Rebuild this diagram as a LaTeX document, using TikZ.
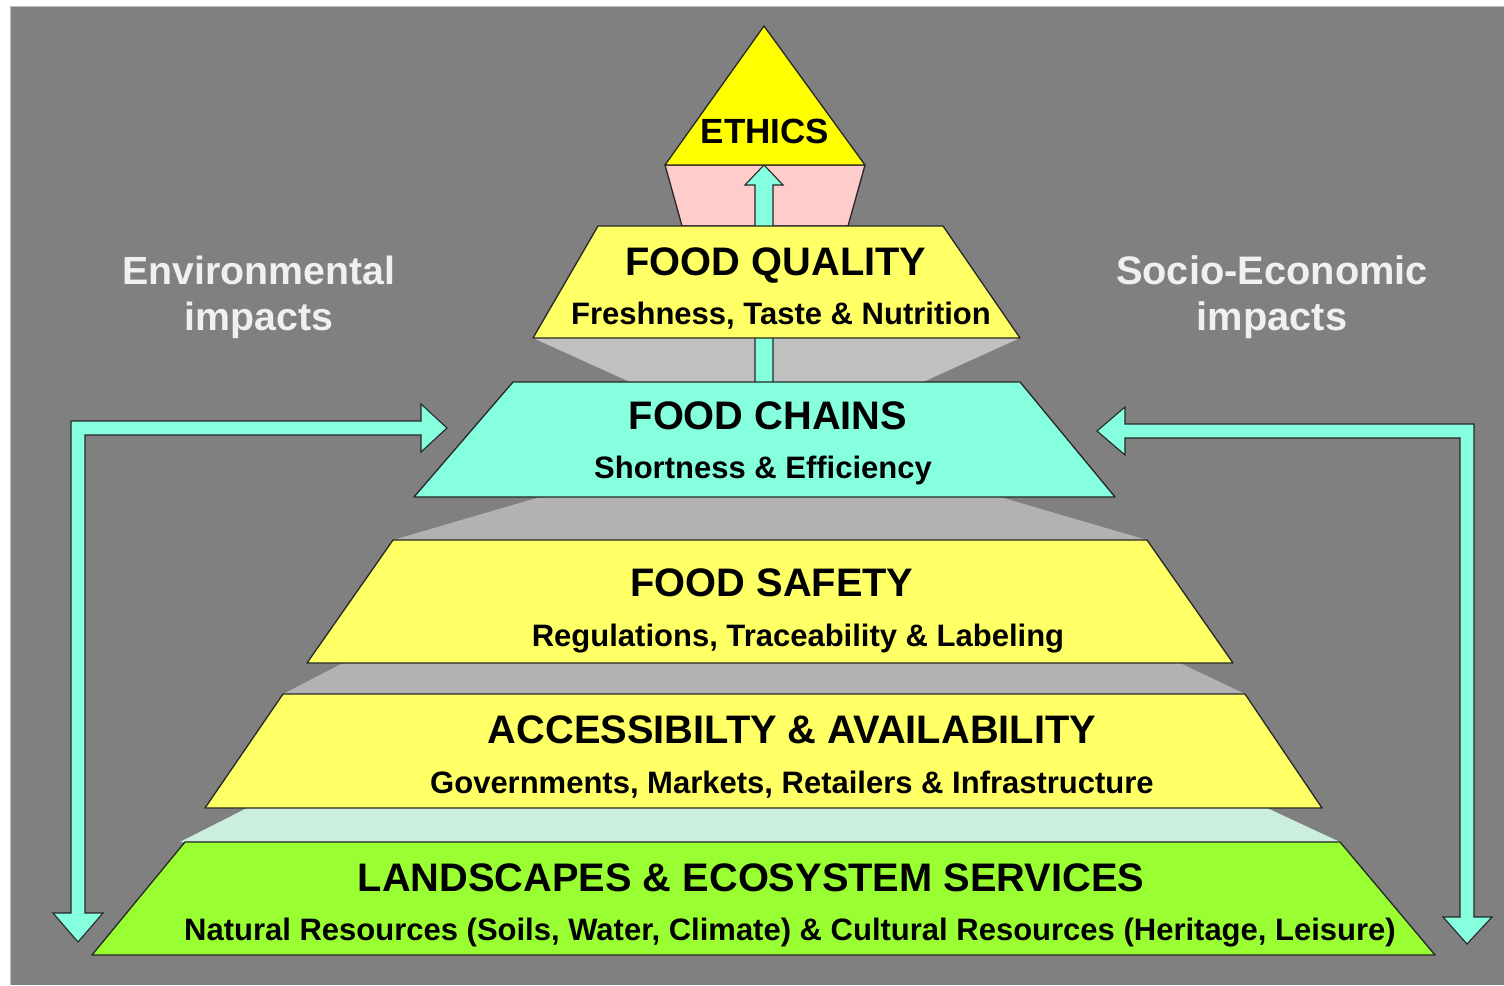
\documentclass[tikz,border=0pt]{standalone}
\usepackage{fontspec}
\setmainfont{Liberation Sans}
\definecolor{bggray}{HTML}{808080}
\definecolor{ethicsyellow}{HTML}{FFFF00}
\definecolor{pinkband}{HTML}{FFCCCC}
\definecolor{layeryellow}{HTML}{FFFF66}
\definecolor{aqua}{HTML}{86FFDE}
\definecolor{landgreen}{HTML}{99FF33}
\definecolor{bandA}{HTML}{C0C0C0}
\definecolor{bandB}{HTML}{B2B2B2}
\definecolor{bandC}{HTML}{CCEEDD}
\definecolor{sidetext}{HTML}{F0F0F0}
\tikzset{
  layer/.style={draw=black!85, line width=1.3pt, line join=round},
  band/.style={draw=none},
  blockarrow/.style={draw=black!85, line width=1.1pt, fill=aqua, line join=miter},
  title/.style={anchor=base, inner sep=0pt, font=\bfseries\fontsize{39.8}{40}\selectfont},
  subtitle/.style={anchor=base, inner sep=0pt, font=\bfseries\fontsize{31}{32}\selectfont},
  sidelabel/.style={anchor=base, inner sep=0pt, text=sidetext, font=\bfseries\fontsize{39.3}{40}\selectfont}
}
\begin{document}
\begin{tikzpicture}[x=1pt,y=-1pt]
\useasboundingbox (0,0) rectangle (1504,985);
\fill[white] (0,0) rectangle (1504,985);
\fill[bggray] (10,6) rectangle (1504,985);
\draw[black!25, line width=0.8pt] (10,985) -- (10,6) -- (1504,6);

% connecting bands (behind layers)
\fill[pinkband, layer] (665,165) -- (865,165) -- (848,226) -- (682,226) -- cycle;
\fill[bandA] (533,338) -- (1020,338) -- (923,382) -- (630,382) -- cycle;
\fill[bandB] (540,497) -- (1000,497) -- (1147,540) -- (393,540) -- cycle;
\fill[bandB] (343,663) -- (1180,663) -- (1245,694) -- (283,694) -- cycle;
\fill[bandC] (247,808) -- (1267,808) -- (1340,842) -- (180,842) -- cycle;

% up arrow from food chains to ethics
\coordinate (upbase) at (764,382);
\coordinate (uptip) at (764,165);
\draw[blockarrow] ([xshift=-9pt]upbase) -- ([xshift=-9pt,yshift=-20pt]uptip) -- ([xshift=-19pt,yshift=-20pt]uptip) -- (uptip)
  -- ([xshift=19pt,yshift=-20pt]uptip) -- ([xshift=9pt,yshift=-20pt]uptip) -- ([xshift=9pt]upbase);

% layers
\filldraw[layer, fill=layeryellow] (598,226) -- (943,226) -- (1020,338) -- (533,338) -- cycle;
\filldraw[layer, fill=aqua] (513,382) -- (1020,382) -- (1115,497) -- (414,497) -- cycle;
\filldraw[layer, fill=layeryellow] (393,540) -- (1147,540) -- (1233,663) -- (307,663) -- cycle;
\filldraw[layer, fill=layeryellow] (283,694) -- (1245,694) -- (1322,808) -- (205,808) -- cycle;
\filldraw[layer, fill=landgreen] (185,842) -- (1340,842) -- (1435,955) -- (92,955) -- cycle;
\filldraw[layer, fill=ethicsyellow] (764,26) -- (865,165) -- (665,165) -- cycle;

% side feedback arrows
\filldraw[blockarrow] (71,421) -- (421,421) -- (421,404) -- (447,428) -- (421,452) -- (421,435)
  -- (85,435) -- (85,913) -- (103,913) -- (78,942) -- (53,913) -- (71,913) -- cycle;
\filldraw[blockarrow] (1474,424) -- (1125,424) -- (1125,407) -- (1097,431) -- (1125,455) -- (1125,438)
  -- (1460,438) -- (1460,917) -- (1443,917) -- (1467,944) -- (1492,917) -- (1474,917) -- cycle;

% texts
\node[anchor=base, inner sep=0pt, font=\bfseries\fontsize{35}{36}\selectfont] (ethics) at (765,143) {ETHICS};
\node[title] (fq) at (776,275) {FOOD QUALITY};
\node[subtitle] (fqs) at (781,324) {Freshness, Taste \& Nutrition};
\node[title] (fc) at (768,429) {FOOD CHAINS};
\node[subtitle] (fcs) at (763,478) {Shortness \& Efficiency};
\node[title] (fs) at (772,596) {FOOD SAFETY};
\node[subtitle] (fss) at (798,646) {Regulations, Traceability \& Labeling};
\node[title] (aa) at (792,743) {ACCESSIBILTY \& AVAILABILITY};
\node[subtitle] (aas) at (792,793) {Governments, Markets, Retailers \& Infrastructure};
\node[title] (ls) at (751,891) {LANDSCAPES \& ECOSYSTEM SERVICES};
\node[subtitle] (lss) at (790,940) {Natural Resources (Soils, Water, Climate) \& Cultural Resources (Heritage, Leisure)};
\node[sidelabel] (env1) at (259,284) {Environmental};
\node[sidelabel] (env2) at (259,330) {impacts};
\node[sidelabel, font=\bfseries\fontsize{39.8}{40}\selectfont] (soc1) at (1272,284) {Socio-Economic};
\node[sidelabel, font=\bfseries\fontsize{39.8}{40}\selectfont] (soc2) at (1272,330) {impacts};
\end{tikzpicture}
\end{document}
